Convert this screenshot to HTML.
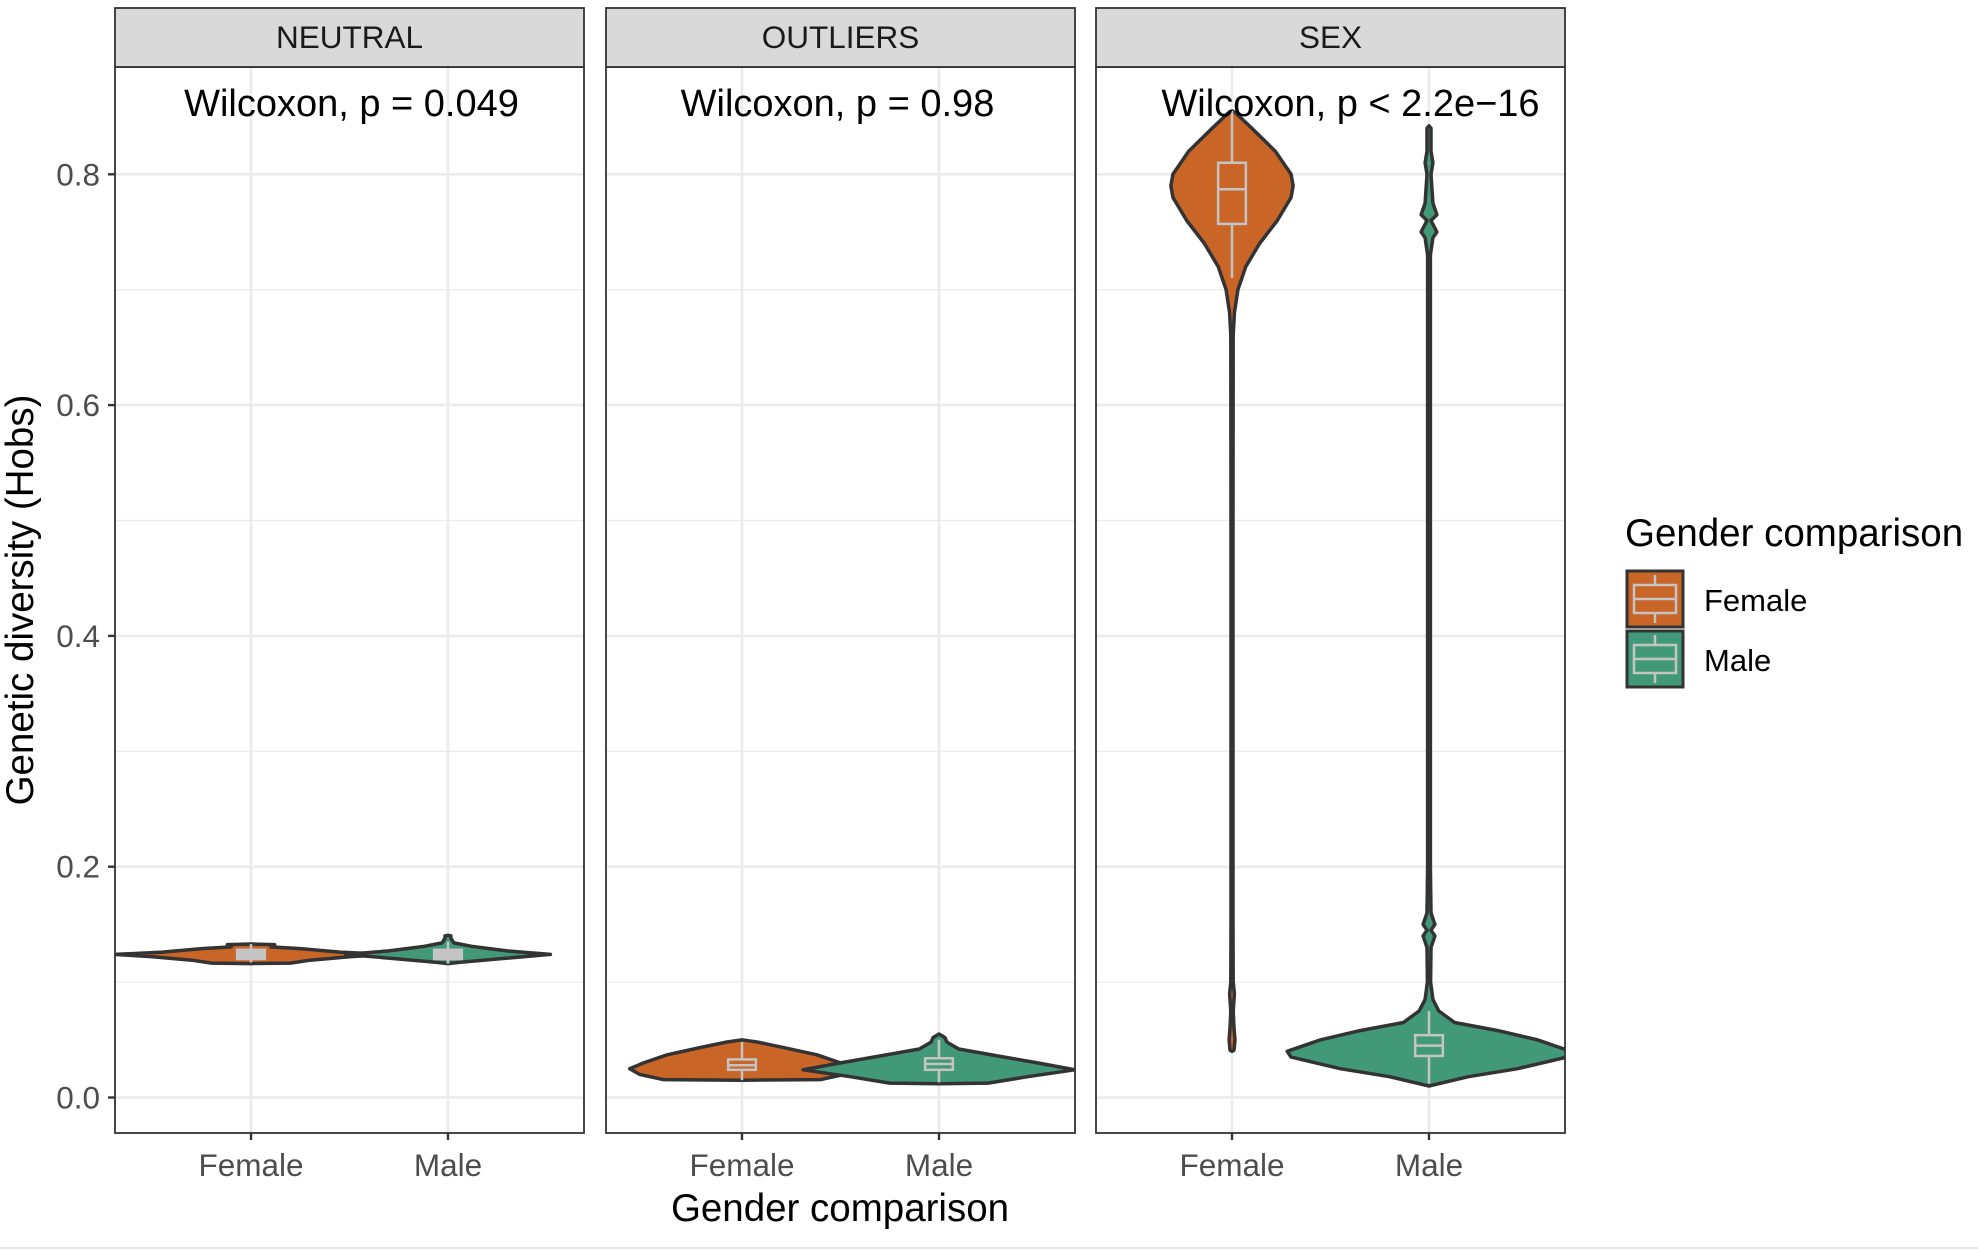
<!DOCTYPE html>
<html><head><meta charset="utf-8"><style>
html,body{margin:0;padding:0;background:#fff;}
svg{display:block;font-family:"Liberation Sans",Arial,sans-serif;}
</style></head><body>
<svg id="chart" width="1978" height="1250" viewBox="0 0 1978 1250"></svg>
<script>
const panels = ["NEUTRAL","OUTLIERS","SEX"];
const pvalues = ["Wilcoxon, p = 0.049","Wilcoxon, p = 0.98","Wilcoxon, p < 2.2e\u221216"];
const categories = ["Female","Male"];
const yTicks = [0,0.2,0.4,0.6,0.8];
const yTickLabels = ["0.0","0.2","0.4","0.6","0.8"];
const yMinor = [0.1,0.3,0.5,0.7];
// violin profiles: [value, half-width in category units]
const neutralFemale = [[0.116,0],[0.1165,0.2],[0.119,0.3],[0.122,0.5],[0.124,0.69],[0.126,0.45],[0.129,0.25],[0.1305,0.1],[0.1315,0.12],[0.1325,0.12],[0.133,0]];
const neutralMale = [[0.116,0],[0.117,0.05],[0.12,0.25],[0.124,0.52],[0.127,0.3],[0.131,0.12],[0.134,0.03],[0.138,0.015],[0.14,0.015],[0.1405,0]];
const outliersFemale = [[0.015,0],[0.0155,0.4],[0.02,0.52],[0.025,0.57],[0.03,0.5],[0.037,0.38],[0.043,0.22],[0.048,0.08],[0.05,0]];
const outliersMale = [[0.012,0],[0.0125,0.25],[0.018,0.45],[0.024,0.69],[0.03,0.5],[0.036,0.3],[0.042,0.1],[0.048,0.04],[0.052,0.03],[0.055,0]];
const sexFemale = [[0.04,0],[0.041,0.01],[0.05,0.015],[0.06,0.01],[0.075,0.006],[0.09,0.012],[0.1,0.006],[0.15,0.005],[0.5,0.005],[0.66,0.006],[0.68,0.012],[0.7,0.03],[0.72,0.07],[0.74,0.14],[0.76,0.23],[0.78,0.3],[0.79,0.31],[0.8,0.3],[0.82,0.22],[0.84,0.1],[0.853,0.02],[0.855,0]];
const sexMale = [[0.01,0],[0.012,0.05],[0.018,0.2],[0.025,0.45],[0.035,0.7],[0.04,0.72],[0.05,0.55],[0.058,0.35],[0.065,0.13],[0.075,0.05],[0.085,0.02],[0.1,0.008],[0.13,0.01],[0.14,0.03],[0.145,0.01],[0.15,0.03],[0.16,0.01],[0.2,0.007],[0.73,0.007],[0.745,0.02],[0.75,0.04],[0.76,0.01],[0.765,0.04],[0.775,0.02],[0.8,0.01],[0.81,0.02],[0.82,0.01],[0.84,0.01],[0.842,0]];
const violins = [[neutralFemale,neutralMale],[outliersFemale,outliersMale],[sexFemale,sexMale]];
// box stats: q1, median, q3, lower whisker, upper whisker
const neutralBoxes = [[0.12,0.124,0.128,0.117,0.133],[0.12,0.124,0.128,0.116,0.135]];
const outliersBoxes = [[0.024,0.028,0.033,0.015,0.048],[0.024,0.029,0.034,0.013,0.05]];
const sexBoxes = [[0.757,0.787,0.81,0.71,0.855],[0.036,0.045,0.054,0.012,0.075]];
const boxes = [neutralBoxes,outliersBoxes,sexBoxes];

const colors = ["#c96527","#41997a"];
const NS="http://www.w3.org/2000/svg";
const svg=document.getElementById('chart');
const panelLeft=[115,606,1096], panelW=469, panelTop=67, panelBottom=1133, stripTop=8;
const spacing=0.42*panelW;
function yS(v){return 1097.5 - v*1154;}
function xS(p,c){return panelLeft[p] + panelW*0.29 + c*spacing;}
function el(tag,attrs,parent){const e=document.createElementNS(NS,tag);for(const k in attrs)e.setAttribute(k,attrs[k]);(parent||svg).appendChild(e);return e;}
const pOffsets=[2,-3,20];

const defs=el('defs',{});
panels.forEach((name,p)=>{
  const cp=el('clipPath',{id:'clip'+p},defs);
  el('rect',{x:panelLeft[p],y:panelTop,width:panelW,height:panelBottom-panelTop},cp);
  const g=el('g',{});
  
  
  yMinor.forEach(v=>{const l=el('line',{x1:panelLeft[p],x2:panelLeft[p]+panelW,y1:yS(v),y2:yS(v),stroke:'#ebebeb','stroke-width':1.3},g);
    });
  yTicks.forEach(v=>{const l=el('line',{x1:panelLeft[p],x2:panelLeft[p]+panelW,y1:yS(v),y2:yS(v),stroke:'#ebebeb','stroke-width':2.6},g);
    });
  categories.forEach((c,ci)=>{const l=el('line',{x1:xS(p,ci),x2:xS(p,ci),y1:panelTop,y2:panelBottom,stroke:'#ebebeb','stroke-width':2.6},g);
    });
  const vg=el('g',{'clip-path':'url(#clip'+p+')'},g);
  categories.forEach((c,ci)=>{
    const prof=violins[p][ci], cx=xS(p,ci);
    let pts=prof.map(d=>[cx+d[1]*spacing,yS(d[0])]);
    let left=prof.slice().reverse().map(d=>[cx-d[1]*spacing,yS(d[0])]);
    const path=el('path',{d:'M'+pts.concat(left).map(q=>q[0].toFixed(1)+','+q[1].toFixed(1)).join('L')+'Z',fill:colors[ci],stroke:'#333','stroke-width':3.5,'stroke-linejoin':'round'},vg);
    
    
    const b=boxes[p][ci], bw=0.05*spacing+4;
    const wl=el('line',{x1:cx,x2:cx,y1:yS(b[3]),y2:yS(b[4]),stroke:'#c4c4c4','stroke-width':2.5},vg);
    
    const r=el('rect',{x:cx-bw,y:yS(b[2]),width:bw*2,height:Math.max(2,yS(b[0])-yS(b[2])),fill:p===0?'#c4c4c4':colors[ci],stroke:'#c4c4c4','stroke-width':2.5},vg);
    
    const m=el('line',{x1:cx-bw,x2:cx+bw,y1:yS(b[1]),y2:yS(b[1]),stroke:'#c4c4c4','stroke-width':2.5},vg);
    
  });
  const border=el('rect',{x:panelLeft[p],y:panelTop,width:panelW,height:panelBottom-panelTop,fill:'none',stroke:'#333','stroke-width':1.8},g);
  
  const strip=el('rect',{x:panelLeft[p],y:stripTop,width:panelW,height:panelTop-stripTop,fill:'#d9d9d9',stroke:'#333','stroke-width':1.8},g);
  
  const st=el('text',{x:panelLeft[p]+panelW/2,y:48,'text-anchor':'middle','font-size':31.5,fill:'#1a1a1a'},g);
  st.textContent=name;
  const pt=el('text',{x:panelLeft[p]+panelW/2+pOffsets[p],y:116,'text-anchor':'middle','font-size':38,fill:'#000'},g);
  pt.textContent=pvalues[p];
  categories.forEach((c,ci)=>{
    const tk=el('line',{x1:xS(p,ci),x2:xS(p,ci),y1:panelBottom,y2:panelBottom+7,stroke:'#333','stroke-width':2.4},g);
    
    const tl=el('text',{x:xS(p,ci),y:1176,'text-anchor':'middle','font-size':31.5,fill:'#4d4d4d'},g);
    tl.textContent=c;
  });
});
yTicks.forEach((v,i)=>{
  const tk=el('line',{x1:108,x2:115,y1:yS(v),y2:yS(v),stroke:'#333','stroke-width':2.4});
  
  const t=el('text',{x:100,y:yS(v)+11,'text-anchor':'end','font-size':31.5,fill:'#4d4d4d'});
  t.textContent=yTickLabels[i];
});
const xt=el('text',{x:840,y:1221,'text-anchor':'middle','font-size':38.5,fill:'#000'});
xt.textContent='Gender comparison';
const yt=el('text',{x:0,y:0,'text-anchor':'middle','font-size':38.5,fill:'#000',transform:'translate(33,600) rotate(-90)'});
yt.textContent='Genetic diversity (Hobs)';
const lt=el('text',{x:1625,y:546,'font-size':38.5,fill:'#000'});
lt.textContent='Gender comparison';
categories.forEach((c,ci)=>{
  const y0=571+ci*60;
  const g=el('g',{});
  
  el('rect',{x:1627,y:y0,width:56,height:56,fill:colors[ci],stroke:'#333','stroke-width':3},g);
  el('line',{x1:1655,x2:1655,y1:y0+4,y2:y0+52,stroke:'#c4c4c4','stroke-width':2.5},g);
  el('rect',{x:1634,y:y0+14,width:42,height:28,fill:colors[ci],stroke:'#c4c4c4','stroke-width':2.5},g);
  el('line',{x1:1634,x2:1676,y1:y0+28,y2:y0+28,stroke:'#c4c4c4','stroke-width':2.5},g);
  const t=el('text',{x:1704,y:y0+40,'font-size':31,fill:'#000'},g);
  t.textContent=c;
});
const bl=el('line',{x1:0,x2:1978,y1:1248,y2:1248,stroke:'#e6e6e6','stroke-width':2});

</script>
</body></html>
